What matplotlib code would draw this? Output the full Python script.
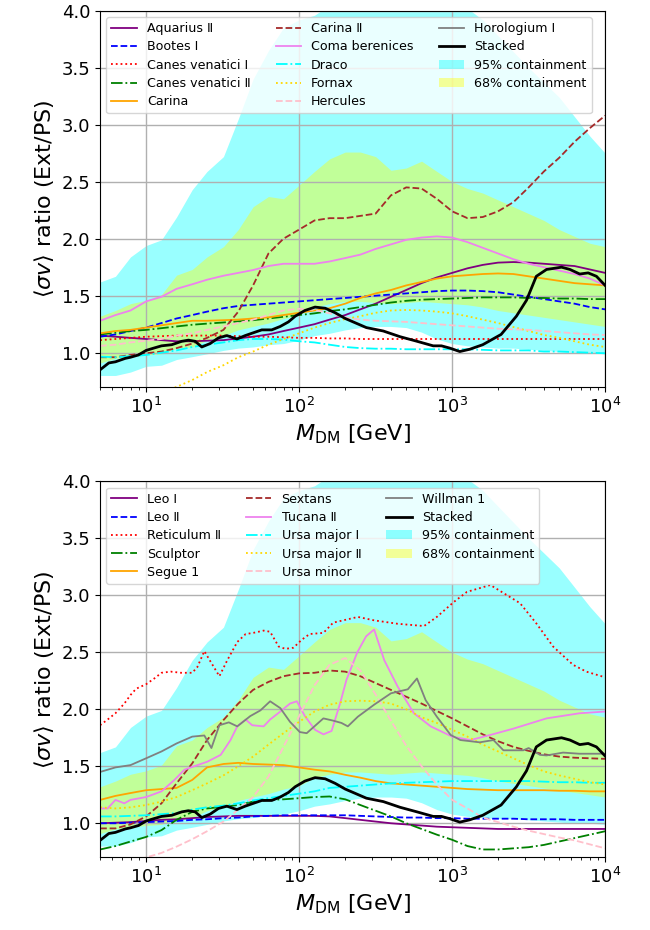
import numpy as np
import matplotlib
matplotlib.use("Agg")
import matplotlib.pyplot as plt
from matplotlib.patches import Patch

nan = np.nan

# common mass grid [GeV]
mass = [5.0, 6.3, 7.9, 10, 12.6, 15.8, 20, 25, 32, 40, 50, 63, 79, 100, 126, 158,
        200, 251, 316, 398, 501, 631, 794, 1000, 1259, 1585, 1995, 2512, 3162,
        3981, 5012, 6310, 7943, 10000]

# containment bands (same in both panels)
band95_lo = [0.80, 0.80, 0.83, 0.88, 0.89, 0.94, 0.965, 0.99, 1.02, 1.04, 1.05, 1.07, 1.08,
             1.11, 1.15, 1.17, 1.20, 1.22, 1.23, 1.23, 1.22, 1.18, 1.12, 1.08, 1.06, 1.05,
             1.04, 1.04, 1.03, 1.02, 1.01, 1.0, 1.0, 0.99]
band95_hi = [1.62, 1.67, 1.84, 1.94, 1.99, 2.19, 2.43, 2.59, 2.72, 3.05, 3.4, 3.65, 3.85,
             3.92, 3.96, 4.05, 4.1, 4.1, 4.1, 4.1, 4.1, 4.1, 4.1, 4.05, 4.02, 3.92, 3.78,
             3.64, 3.5, 3.37, 3.24, 3.07, 2.9, 2.75]
band68_lo = [0.91, 0.95, 0.965, 0.98, 0.99, 1.04, 1.05, 1.11, 1.15, 1.20, 1.23, 1.26, 1.30,
             1.33, 1.40, 1.43, 1.45, 1.45, 1.44, 1.43, 1.44, 1.45, 1.44, 1.43, 1.42, 1.40,
             1.37, 1.35, 1.33, 1.31, 1.29, 1.27, 1.25, 1.23]
band68_hi = [1.32, 1.37, 1.43, 1.46, 1.51, 1.68, 1.73, 1.84, 1.93, 2.08, 2.28, 2.37, 2.35,
             2.47, 2.59, 2.70, 2.76, 2.76, 2.72, 2.60, 2.62, 2.68, 2.59, 2.50, 2.44, 2.40,
             2.34, 2.28, 2.22, 2.16, 2.08, 2.02, 1.96, 1.93]

# stacked result (same in both panels)
stacked_mass = [5.0, 5.7, 6.3, 7.3, 7.9, 8.9, 10, 11.2, 12.6, 14.7, 17.1, 18.9, 20.9, 23.1,
                26.2, 29.7, 33.7, 39.2, 44.4, 51.5, 57.0, 66.2, 75.2, 85.1, 94.2, 109, 127,
                148, 172, 200, 275, 355, 457, 589, 752, 851, 966, 1122, 1303, 1585, 2089,
                2630, 3062, 3548, 4140, 5188, 5888, 6823, 7745, 8770, 10000]
stacked = [0.85, 0.91, 0.92, 0.95, 0.96, 0.98, 1.02, 1.04, 1.06, 1.07, 1.10, 1.11, 1.10,
           1.05, 1.08, 1.13, 1.15, 1.12, 1.15, 1.18, 1.20, 1.20, 1.23, 1.27, 1.32, 1.37,
           1.40, 1.39, 1.35, 1.30, 1.22, 1.19, 1.14, 1.10, 1.06, 1.06, 1.04, 1.01, 1.03,
           1.07, 1.16, 1.32, 1.46, 1.67, 1.73, 1.75, 1.73, 1.69, 1.70, 1.67, 1.59]

# ---- top panel dwarfs ----
aquarius2 = [1.15, 1.14, 1.13, 1.12, 1.11, 1.10, 1.10, 1.105, 1.11, 1.125, 1.14, 1.16, 1.19,
             1.22, 1.25, 1.29, 1.33, 1.38, 1.43, 1.49, 1.55, 1.61, 1.66, 1.70, 1.74, 1.77,
             1.79, 1.795, 1.79, 1.78, 1.77, 1.76, 1.73, 1.70]
bootes1 = [1.14, 1.16, 1.19, 1.22, 1.26, 1.30, 1.33, 1.36, 1.39, 1.41, 1.42, 1.43, 1.44,
           1.45, 1.46, 1.47, 1.48, 1.49, 1.50, 1.51, 1.52, 1.53, 1.54, 1.545, 1.545, 1.54,
           1.53, 1.51, 1.49, 1.47, 1.45, 1.43, 1.40, 1.38]
cvn1 = [1.11, 1.12, 1.13, 1.14, 1.145, 1.15, 1.15, 1.15, 1.15, 1.145, 1.14, 1.14, 1.135,
        1.13, 1.13, 1.125, 1.125, 1.12, 1.12, 1.12, 1.12, 1.12, 1.12, 1.12, 1.12, 1.12,
        1.12, 1.12, 1.12, 1.12, 1.12, 1.12, 1.12, 1.12]
cvn2 = [1.16, 1.175, 1.19, 1.20, 1.215, 1.23, 1.245, 1.255, 1.265, 1.275, 1.285, 1.30,
        1.315, 1.33, 1.345, 1.365, 1.38, 1.40, 1.42, 1.44, 1.455, 1.465, 1.47, 1.475, 1.48,
        1.485, 1.485, 1.485, 1.48, 1.48, 1.475, 1.475, 1.47, 1.47]
carina = [1.17, 1.19, 1.20, 1.22, 1.24, 1.26, 1.28, 1.28, 1.285, 1.29, 1.30, 1.31, 1.33,
          1.35, 1.37, 1.39, 1.43, 1.48, 1.52, 1.55, 1.59, 1.62, 1.65, 1.67, 1.68, 1.69,
          1.695, 1.69, 1.67, 1.65, 1.63, 1.61, 1.60, 1.59]
carina2 = [0.96, 0.96, 0.98, 0.995, 1.01, 1.04, 1.08, 1.13, 1.20, 1.36, 1.59, 1.87, 2.00,
           2.08, 2.16, 2.18, 2.18, 2.20, 2.22, 2.38, 2.45, 2.44, 2.35, 2.24, 2.18, 2.19,
           2.24, 2.32, 2.45, 2.59, 2.71, 2.85, 2.97, 3.08]
coma = [1.28, 1.33, 1.37, 1.45, 1.49, 1.56, 1.60, 1.64, 1.675, 1.70, 1.725, 1.76, 1.78,
        1.78, 1.78, 1.80, 1.83, 1.86, 1.91, 1.95, 1.99, 2.01, 2.02, 2.01, 1.97, 1.92, 1.87,
        1.82, 1.78, 1.75, 1.72, 1.69, 1.65, 1.59]
draco = [0.965, 0.96, 0.97, 0.98, 1.0, 1.02, 1.05, 1.07, 1.09, 1.11, 1.12, 1.12, 1.115,
         1.10, 1.09, 1.07, 1.05, 1.04, 1.035, 1.035, 1.03, 1.03, 1.03, 1.03, 1.03, 1.025,
         1.02, 1.02, 1.02, 1.01, 1.01, 1.005, 1.0, 0.995]
fornax = [nan, nan, nan, nan, 0.645, 0.70, 0.76, 0.83, 0.89, 0.96, 1.01, 1.07, 1.12, 1.17,
          1.22, 1.26, 1.295, 1.32, 1.35, 1.37, 1.375, 1.37, 1.36, 1.345, 1.32, 1.29, 1.26,
          1.225, 1.19, 1.155, 1.13, 1.10, 1.07, 1.05]
hercules = [1.06, 1.07, 1.09, 1.105, 1.12, 1.15, 1.17, 1.20, 1.23, 1.26, 1.29, 1.33, 1.37,
            1.385, 1.375, 1.345, 1.31, 1.29, 1.28, 1.275, 1.27, 1.26, 1.25, 1.24, 1.23,
            1.22, 1.21, 1.205, 1.20, 1.19, 1.18, 1.17, 1.16, 1.155]
horologium1 = [nan] * len(mass)  # not visible in the plotted range

# ---- bottom panel dwarfs ----
leo1 = [1.0, 1.005, 1.01, 1.02, 1.03, 1.035, 1.045, 1.055, 1.06, 1.065, 1.065, 1.065, 1.065,
        1.065, 1.065, 1.06, 1.045, 1.03, 1.015, 1.0, 0.99, 0.98, 0.97, 0.965, 0.96, 0.955,
        0.95, 0.95, 0.95, 0.95, 0.95, 0.95, 0.95, 0.95]
leo2 = [1.0, 1.0, 1.005, 1.01, 1.015, 1.02, 1.03, 1.035, 1.045, 1.05, 1.06, 1.065, 1.07,
        1.07, 1.07, 1.07, 1.07, 1.065, 1.06, 1.055, 1.05, 1.05, 1.045, 1.045, 1.04, 1.04,
        1.04, 1.04, 1.035, 1.035, 1.035, 1.03, 1.03, 1.03]
ret2_mass = [5.0, 5.6, 6.3, 7.2, 7.9, 8.6, 10, 11.3, 12.6, 14.5, 16.9, 20.0, 21.6, 24.0,
             26.3, 30.1, 33.9, 39.4, 44.7, 50.1, 58.6, 64.6, 73.5, 81.3, 91.8, 104, 117,
             144, 167, 194, 242, 309, 440, 655, 794, 1023, 1250, 1778, 2163, 2780, 3565,
             4571, 6166, 7534, 10000]
ret2 = [1.86, 1.91, 1.965, 2.05, 2.125, 2.18, 2.22, 2.27, 2.32, 2.33, 2.32, 2.32, 2.37,
        2.51, 2.42, 2.29, 2.43, 2.59, 2.66, 2.67, 2.69, 2.68, 2.55, 2.53, 2.54, 2.61, 2.66,
        2.67, 2.76, 2.78, 2.81, 2.78, 2.75, 2.73, 2.81, 2.94, 3.03, 3.09, 3.02, 2.93, 2.75,
        2.55, 2.39, 2.33, 2.28]
sculptor = [0.77, 0.80, 0.84, 0.88, 0.94, 1.03, 1.10, 1.13, 1.145, 1.16, 1.19, 1.205, 1.21,
            1.22, 1.23, 1.235, 1.21, 1.16, 1.11, 1.06, 1.0, 0.95, 0.90, 0.855, 0.80, 0.77,
            0.77, 0.78, 0.79, 0.81, 0.84, 0.87, 0.90, 0.93]
segue1 = [1.205, 1.24, 1.265, 1.29, 1.30, 1.31, 1.38, 1.49, 1.52, 1.53, 1.52, 1.515, 1.51,
          1.49, 1.47, 1.455, 1.425, 1.40, 1.37, 1.35, 1.34, 1.33, 1.32, 1.31, 1.30, 1.295,
          1.29, 1.29, 1.29, 1.29, 1.285, 1.285, 1.28, 1.28]
sextans = [0.955, 0.955, 0.99, 1.06, 1.175, 1.35, 1.525, 1.73, 1.905, 2.05, 2.17, 2.24,
           2.29, 2.315, 2.32, 2.34, 2.33, 2.29, 2.23, 2.17, 2.11, 2.05, 1.985, 1.92, 1.85,
           1.78, 1.72, 1.67, 1.635, 1.605, 1.585, 1.575, 1.57, 1.565]
tuc2_mass = [5.0, 5.6, 6.3, 7.2, 7.9, 10, 12.6, 15.3, 17.8, 20.6, 25.1, 30.7, 35.6, 39.4,
             44.7, 49.3, 58.6, 64.6, 75.3, 87.1, 96.6, 109, 127, 144, 163, 185, 204, 240,
             274, 309, 360, 440, 562, 724, 1000, 1318, 1778, 2512, 4140, 6808, 10000]
tuc2 = [1.13, 1.13, 1.205, 1.175, 1.205, 1.23, 1.28, 1.38, 1.47, 1.50, 1.54, 1.60, 1.73,
        1.85, 1.91, 1.86, 1.85, 1.91, 1.98, 2.05, 2.07, 1.94, 1.82, 1.78, 1.81, 2.05, 2.26,
        2.50, 2.64, 2.70, 2.43, 2.20, 1.965, 1.85, 1.76, 1.73, 1.775, 1.83, 1.92, 1.965,
        1.98]
uma1 = [1.06, 1.06, 1.065, 1.07, 1.08, 1.09, 1.12, 1.14, 1.155, 1.175, 1.20, 1.22, 1.24,
        1.26, 1.28, 1.31, 1.32, 1.33, 1.34, 1.35, 1.355, 1.36, 1.365, 1.37, 1.37, 1.37,
        1.37, 1.37, 1.37, 1.365, 1.36, 1.36, 1.355, 1.355]
uma2 = [1.14, 1.13, 1.14, 1.16, 1.19, 1.23, 1.29, 1.35, 1.42, 1.50, 1.585, 1.69, 1.79, 1.89,
        1.98, 2.04, 2.07, 2.075, 2.07, 2.05, 2.0, 1.93, 1.88, 1.82, 1.76, 1.69, 1.63, 1.57,
        1.51, 1.455, 1.42, 1.39, 1.36, 1.34]
umi = [nan, nan, 0.66, 0.70, 0.74, 0.795, 0.86, 0.93, 1.015, 1.12, 1.23, 1.41, 1.67, 1.94,
       2.21, 2.39, 2.45, 2.34, 2.13, 1.90, 1.68, 1.50, 1.34, 1.205, 1.13, 1.05, 1.01, 0.97,
       0.935, 0.905, 0.875, 0.85, 0.815, 0.78]
wil1_mass = [5.0, 6.3, 7.9, 10, 12.6, 15.8, 20, 24, 26.7, 30.1, 34.7, 39.4, 47.9, 55.8,
             64.6, 75.3, 87.1, 101, 112, 144, 167, 189, 208, 242, 309, 398, 513, 589, 671,
             794, 977, 1132, 1514, 1862, 2163, 2512, 2917, 3162, 3750, 4140, 5309, 6761,
             10000]
wil1 = [1.45, 1.49, 1.51, 1.57, 1.63, 1.70, 1.76, 1.77, 1.66, 1.86, 1.885, 1.85, 1.94, 1.99,
        2.07, 2.01, 1.89, 1.80, 1.79, 1.92, 1.90, 1.88, 1.85, 1.935, 2.04, 2.14, 2.175,
        2.27, 2.08, 1.935, 1.775, 1.73, 1.71, 1.73, 1.64, 1.64, 1.64, 1.66, 1.60, 1.595,
        1.62, 1.61, 1.61]

colors = ["purple", "blue", "red", "green", "orange", "brown", "violet", "cyan", "gold",
          "pink", "grey"]
styles = ["-", "--", ":", "-.", "-", "--", "-", "-.", ":", "--", "-"]

top_names = ["Aquarius Ⅱ", "Bootes Ⅰ", "Canes venatici Ⅰ", "Canes venatici Ⅱ", "Carina",
             "Carina Ⅱ", "Coma berenices", "Draco", "Fornax", "Hercules", "Horologium Ⅰ"]
top_data = [(mass, aquarius2), (mass, bootes1), (mass, cvn1), (mass, cvn2), (mass, carina),
            (mass, carina2), (mass, coma), (mass, draco), (mass, fornax), (mass, hercules),
            (mass, horologium1)]

bot_names = ["Leo Ⅰ", "Leo Ⅱ", "Reticulum Ⅱ", "Sculptor", "Segue 1", "Sextans",
             "Tucana Ⅱ", "Ursa major Ⅰ", "Ursa major Ⅱ", "Ursa minor", "Willman 1"]
bot_data = [(mass, leo1), (mass, leo2), (ret2_mass, ret2), (mass, sculptor), (mass, segue1),
            (mass, sextans), (tuc2_mass, tuc2), (mass, uma1), (mass, uma2), (mass, umi),
            (wil1_mass, wil1)]


def panel(ax, names, data):
    ax.fill_between(mass, band95_lo, band95_hi, color="cyan", alpha=0.4, lw=0)
    ax.fill_between(mass, band68_lo, band68_hi, color="yellow", alpha=0.4, lw=0)
    handles = []
    for (x, y), name, c, ls in zip(data, names, colors, styles):
        h, = ax.plot(x, y, color=c, ls=ls, lw=1.3, label=name)
        handles.append(h)
    h, = ax.plot(stacked_mass, stacked, color="black", lw=2, label="Stacked")
    handles.append(h)
    handles.append(Patch(color="cyan", alpha=0.4, lw=0, label="95% containment"))
    handles.append(Patch(color="yellow", alpha=0.4, lw=0, label="68% containment"))

    ax.set_xscale("log")
    ax.set_xlim(5, 1e4)
    ax.set_ylim(0.7, 4.0)
    ax.grid(True, color="#b0b0b0", lw=1)
    ax.tick_params(labelsize=13)
    ax.set_xlabel(r"$M_{\rm DM}$ [GeV]", fontsize=16)
    ax.set_ylabel(r"$\langle \sigma v \rangle$ ratio (Ext/PS)", fontsize=16)
    ax.legend(handles=handles, ncol=3, loc="upper left", fontsize=9.1,
              labelspacing=0.42, columnspacing=2.0, handletextpad=0.8)


fig = plt.figure(figsize=(6.5, 9.3), dpi=100)
ax1 = fig.add_axes([0.154, 0.584, 0.777, 0.4045])
ax2 = fig.add_axes([0.154, 0.078, 0.777, 0.4045])

panel(ax1, top_names, top_data)
panel(ax2, bot_names, bot_data)

fig.savefig("out.png", dpi=100)
